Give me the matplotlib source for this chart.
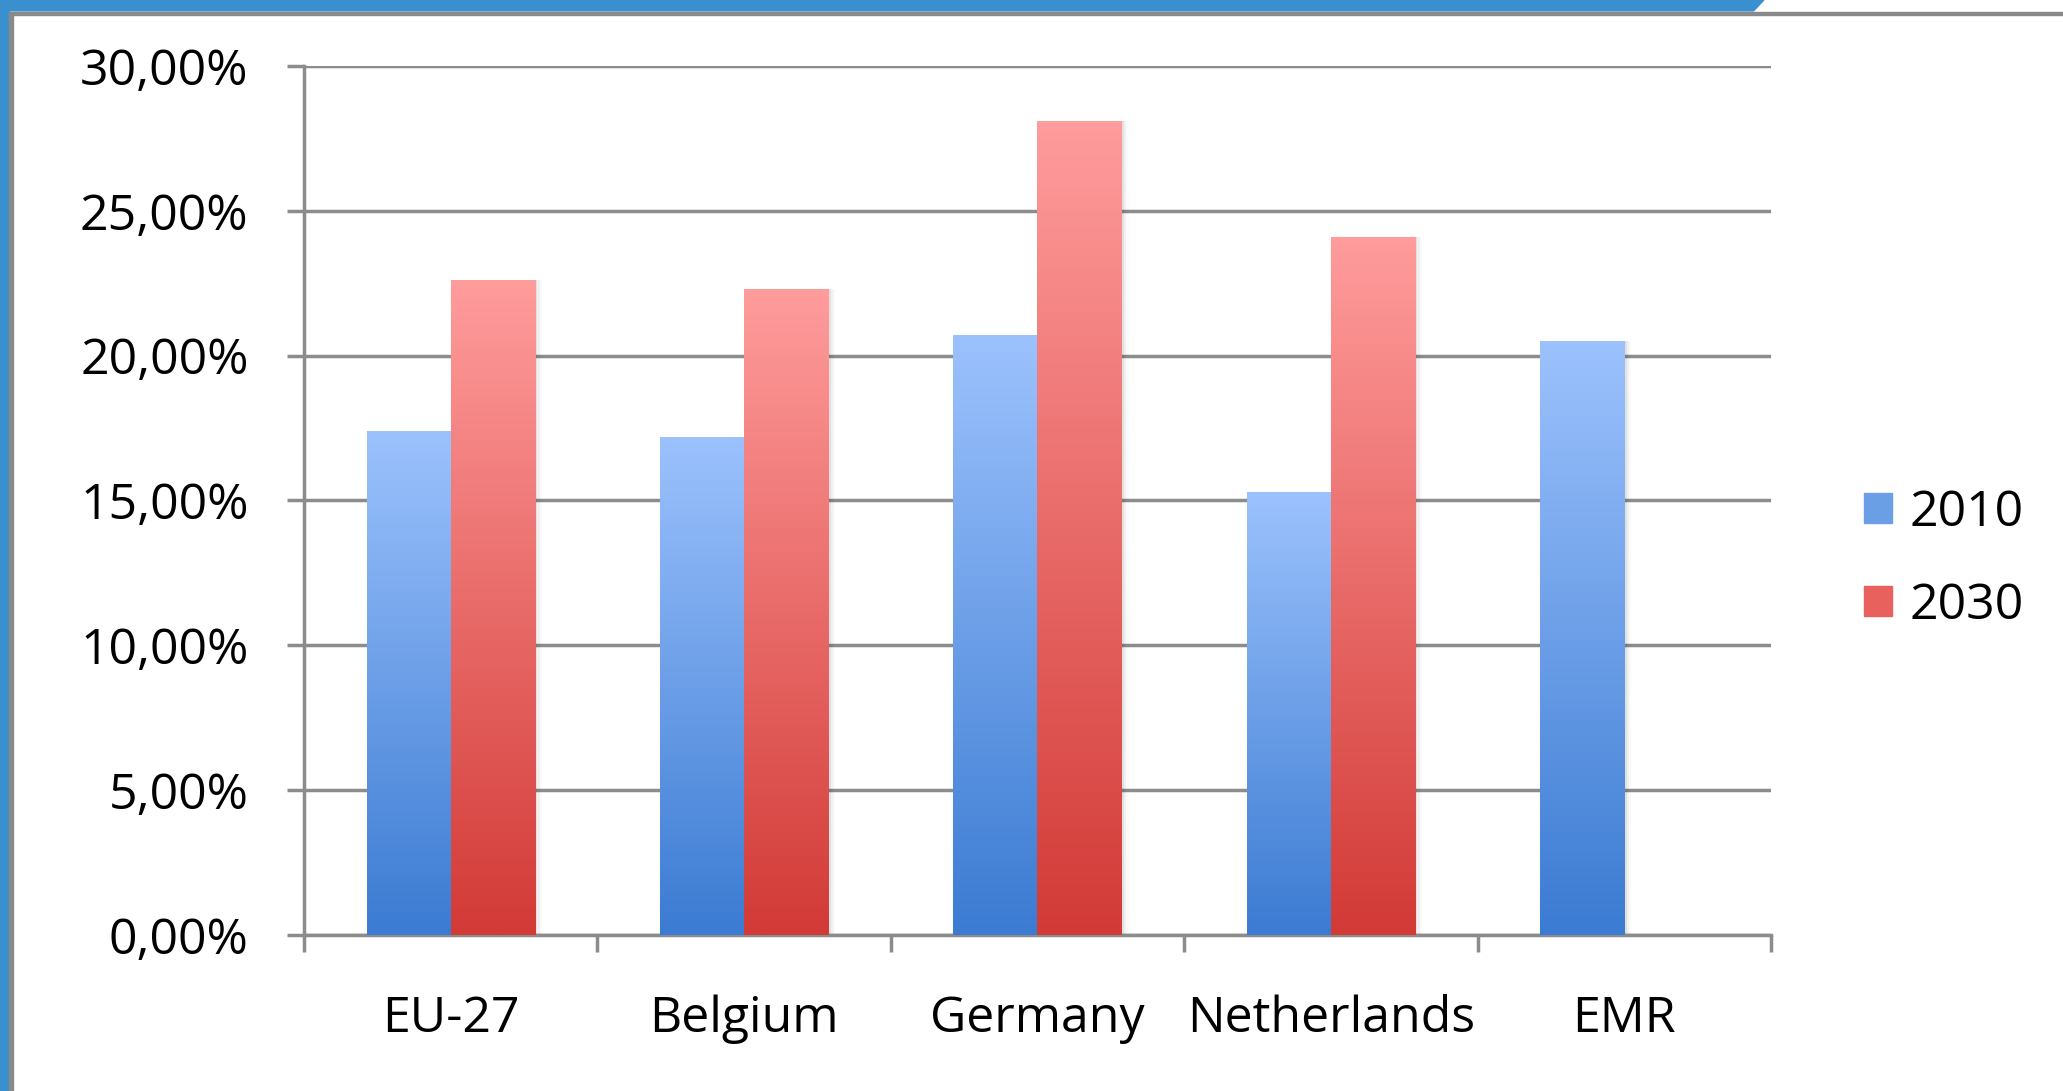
import numpy as np
import matplotlib.pyplot as plt
from matplotlib.patches import Rectangle, Polygon
from matplotlib.colors import LinearSegmentedColormap
from matplotlib.ticker import FuncFormatter, MultipleLocator

# Data
categories = ["EU-27", "Belgium", "Germany", "Netherlands", "EMR"]
values_2010 = [17.4, 17.2, 20.7, 15.3, 20.5]
values_2030 = [22.6, 22.3, 28.1, 24.1, None]
series_names = ["2010", "2030"]

plt.rcParams["font.family"] = ["Open Sans", "DejaVu Sans"]

fig = plt.figure(figsize=(20.63, 10.91), dpi=100)
fig.patch.set_facecolor("white")

# frame of the slide (blue band left and top, grey inner line)
blue = "#3a8fcf"
fig.patches.append(Rectangle((0, 0), 0.0045, 1, transform=fig.transFigure, color=blue, zorder=0))
fig.patches.append(Rectangle((0.0045, 0), 0.0018, 0.988, transform=fig.transFigure, color="#8a8a8a", zorder=0))
fig.patches.append(Polygon([(0, 1), (0.855, 1), (0.850, 0.99), (0, 0.99)], closed=True,
                           transform=fig.transFigure, color=blue, zorder=0))
fig.patches.append(Rectangle((0.0045, 0.9865), 0.9955, 0.0025, transform=fig.transFigure, color="#8a8a8a", zorder=0))

ax = fig.add_axes([0.1474, 0.143, 0.711, 0.7965])

width = 0.287
blue_cmap = LinearSegmentedColormap.from_list("b", ["#3b7bd2", "#9cc2fd"])
red_cmap = LinearSegmentedColormap.from_list("r", ["#d23a36", "#ff9c9c"])
grad = np.linspace(0, 1, 256).reshape(-1, 1)


def gradient_bar(x, h, cmap):
    # soft shadow on the right
    for k, a in enumerate([0.06, 0.04, 0.02]):
        ax.add_patch(Rectangle((x + width, 0), 0.008 * (k + 1), h, color="black", alpha=a,
                               lw=0, zorder=2))
    rect = Rectangle((x, 0), width, h, facecolor="none", edgecolor="none", zorder=3)
    ax.add_patch(rect)
    im = ax.imshow(grad, cmap=cmap, origin="lower", aspect="auto",
                   extent=[x, x + width, 0, h], zorder=3)
    im.set_clip_path(rect)


for i, cat in enumerate(categories):
    center = i + 0.5
    gradient_bar(center - width, values_2010[i], blue_cmap)
    if values_2030[i] is not None:
        gradient_bar(center, values_2030[i], red_cmap)

ax.set_xlim(0, len(categories))
ax.set_ylim(0, 30)

ax.yaxis.set_major_locator(MultipleLocator(5))
ax.yaxis.set_major_formatter(FuncFormatter(lambda v, p: f"{v:.2f}".replace(".", ",") + "%"))
ax.grid(axis="y", color="#8c8c8c", linewidth=2.5, zorder=1)
ax.set_axisbelow(True)

ax.set_xticks(np.arange(len(categories) + 1))
ax.set_xticklabels([])
ax.set_xticks(np.arange(len(categories)) + 0.5, minor=True)
ax.set_xticklabels(categories, minor=True)
ax.tick_params(axis="x", which="major", length=12, width=2.5, color="#8c8c8c")
ax.tick_params(axis="x", which="minor", length=0, pad=43, labelsize=36)
ax.tick_params(axis="y", length=12, width=2.5, color="#8c8c8c", labelsize=36, pad=28)

for s in ["top", "right"]:
    ax.spines[s].set_visible(False)
for s in ["left", "bottom"]:
    ax.spines[s].set_color("#8c8c8c")
    ax.spines[s].set_linewidth(2.5)

# legend
handles = [Rectangle((0, 0), 1, 1, color="#6a9fe6"), Rectangle((0, 0), 1, 1, color="#e8615d")]
ax.legend(handles, series_names, loc="center left", bbox_to_anchor=(1.033, 0.432), frameon=False,
          fontsize=36, handlelength=0.55, handleheight=0.55, handletextpad=0.36, labelspacing=0.87)

fig.savefig("out.png", dpi=100)
